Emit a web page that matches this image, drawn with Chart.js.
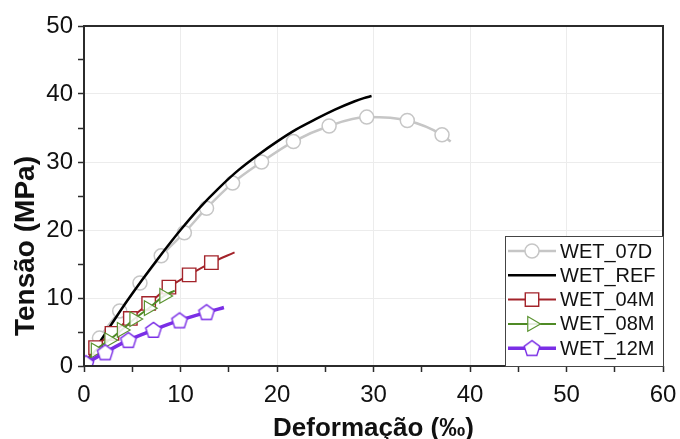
<!DOCTYPE html>
<html>
<head>
<meta charset="utf-8">
<script src="https://cdn.jsdelivr.net/npm/chart.js@4.4.1/dist/chart.umd.min.js"></script>
<style>
  html, body { margin: 0; padding: 0; background: #fff; }
  #wrap { width: 680px; height: 439px; position: relative; }
</style>
</head>
<body>
<div id="wrap"><canvas id="stressChart"></canvas></div>
<script>
// Deformação (‰) x Tensão (MPa) for each WET series
const strain07d = [0, 1.6, 3.7, 5.8, 8.0, 10.4, 12.7, 15.4, 18.4, 21.7, 25.4, 29.3, 33.5, 37.1, 38.0];
const stress07d = [0, 4.1, 8.1, 12.2, 16.2, 19.6, 23.2, 26.9, 30.0, 33.0, 35.3, 36.6, 36.1, 34.0, 33.0];

const strainRef = [0, 2, 4, 6, 8, 10, 12, 14, 16, 18, 20, 22, 24, 26, 28, 29, 29.8];
const stressRef = [0, 4.3, 8.6, 12.6, 16.4, 20.0, 23.3, 26.2, 28.8, 31.0, 33.0, 34.8, 36.3, 37.7, 38.9, 39.4, 39.7];

const strain04m = [0, 1.2, 2.9, 4.8, 6.7, 8.8, 10.9, 13.2, 15.6];
const stress04m = [0, 2.7, 4.8, 7.0, 9.2, 11.6, 13.4, 15.2, 16.7];

const strain08m = [0, 1.2, 2.6, 3.9, 5.2, 6.7, 8.3, 9.4];
const stress08m = [0, 2.3, 3.8, 5.3, 6.9, 8.5, 10.3, 11.1];

const strain12m = [0.2, 2.2, 4.6, 7.2, 9.9, 12.7, 14.5];
const stress12m = [0.4, 2.0, 3.8, 5.3, 6.7, 7.9, 8.6];

const seriesLabels = ['WET_07D', 'WET_REF', 'WET_04M', 'WET_08M', 'WET_12M'];
const xTicks = [0, 10, 20, 30, 40, 50, 60];
const yTicks = [0, 10, 20, 30, 40, 50];
const xTitle = 'Deformação (‰)';
const yTitle = 'Tensão (MPa)';

const FONT = "'Liberation Sans', Arial, sans-serif";

function toPoints(xs, ys) {
    return xs.map((x, i) => ({ x: x, y: ys[i] }));
}

// marker on every point except the ones listed
function markerRadius(n, r, skip) {
    return Array.from({ length: n }, (_, i) => skip.includes(i) ? 0 : r);
}

// pentagon marker, Chart.js has none built in
function makePentagon(color) {
    const c = document.createElement('canvas');
    c.width = 20; c.height = 20;
    const g = c.getContext('2d');
    g.beginPath();
    for (let k = 0; k < 5; k++) {
        const a = -Math.PI / 2 + k * 2 * Math.PI / 5;
        const px = 10 + 8.2 * Math.cos(a), py = 10.6 + 8.2 * Math.sin(a);
        k ? g.lineTo(px, py) : g.moveTo(px, py);
    }
    g.closePath();
    g.fillStyle = '#fff';
    g.fill();
    g.lineWidth = 1.4;
    g.strokeStyle = color;
    g.stroke();
    return c;
}

const purple = '#7a2ee6';
const pentagon = makePentagon(purple);

const datasets = [
    {
        label: seriesLabels[0],
        data: toPoints(strain07d, stress07d),
        borderColor: '#c6c6c6', borderWidth: 2.5,
        pointStyle: 'circle', pointRadius: markerRadius(strain07d.length, 7, [0, 14]),
        pointBackgroundColor: '#fff', pointBorderColor: '#c6c6c6', pointBorderWidth: 1.5,
        order: 5
    },
    {
        label: seriesLabels[1],
        data: toPoints(strainRef, stressRef),
        borderColor: '#000', borderWidth: 2.5,
        pointRadius: 0,
        order: 4
    },
    {
        label: seriesLabels[2],
        data: toPoints(strain04m, stress04m),
        borderColor: '#a3232a', borderWidth: 2,
        pointStyle: 'rect', pointRadius: markerRadius(strain04m.length, 9.5, [0, 8]),
        pointBackgroundColor: '#fff', pointBorderColor: '#a3232a', pointBorderWidth: 1.4,
        order: 3
    },
    {
        label: seriesLabels[3],
        data: toPoints(strain08m, stress08m),
        borderColor: '#4f8a25', borderWidth: 2,
        pointStyle: 'triangle', pointRotation: 90,
        pointRadius: markerRadius(strain08m.length, 8.5, [0, 7]),
        pointBackgroundColor: 'rgba(255,255,255,0.85)', pointBorderColor: '#5c9432', pointBorderWidth: 1.2,
        order: 2
    },
    {
        label: seriesLabels[4],
        data: toPoints(strain12m, stress12m),
        borderColor: purple, borderWidth: 3.5,
        pointStyle: pentagon, pointRadius: markerRadius(strain12m.length, 8, [6]),
        order: 1
    }
];

// box around the plot area
const frame = {
    id: 'frame',
    afterDatasetsDraw(chart) {
        const { ctx, chartArea: a } = chart;
        ctx.save();
        ctx.strokeStyle = '#2b2b2b';
        ctx.lineWidth = 2;
        ctx.strokeRect(a.left, a.top, a.right - a.left, a.bottom - a.top);
        ctx.restore();
    }
};

// axis titles, placed by hand (the y title sits low on its axis)
const axisTitles = {
    id: 'axisTitles',
    afterDraw(chart) {
        const { ctx, chartArea: a } = chart;
        ctx.save();
        ctx.fillStyle = '#111';
        ctx.textAlign = 'center';
        ctx.textBaseline = 'middle';
        ctx.font = 'bold 26px ' + FONT;
        ctx.fillText(xTitle, (a.left + a.right) / 2, 429);
        ctx.translate(26, 246);
        ctx.rotate(-Math.PI / 2);
        ctx.font = 'bold 28px ' + FONT;
        ctx.fillText(yTitle, 0, 0);
        ctx.restore();
    }
};

// legend sitting in the lower right corner of the plot
const cornerLegend = {
    id: 'cornerLegend',
    afterDraw(chart) {
        const { ctx, chartArea: a } = chart;
        const left = 505, top = 236, right = a.right, bottom = a.bottom;
        ctx.save();
        ctx.fillStyle = '#fff';
        ctx.fillRect(left, top, right - left, bottom - top);
        ctx.strokeStyle = '#444';
        ctx.lineWidth = 1;
        ctx.strokeRect(left + 0.5, top + 0.5, right - left, bottom - top);

        chart.data.datasets.forEach((ds, i) => {
            const y = top + 15 + i * 24.3;
            ctx.strokeStyle = ds.borderColor;
            ctx.lineWidth = ds.borderWidth;
            ctx.beginPath();
            ctx.moveTo(left + 3, y);
            ctx.lineTo(left + 51, y);
            ctx.stroke();
            const r = Array.isArray(ds.pointRadius) ? Math.max(...ds.pointRadius) : ds.pointRadius;
            if (r > 0) {
                ctx.fillStyle = ds.pointBackgroundColor || '#fff';
                ctx.strokeStyle = ds.pointBorderColor || ds.borderColor;
                ctx.lineWidth = ds.pointBorderWidth || 1;
                Chart.helpers.drawPoint(ctx, {
                    pointStyle: ds.pointStyle, radius: r, rotation: ds.pointRotation || 0, borderWidth: ctx.lineWidth
                }, left + 27, y);
            }
            ctx.fillStyle = '#111';
            ctx.font = '20px ' + FONT;
            ctx.textBaseline = 'middle';
            ctx.fillText(ds.label, left + 55, y + 1);
        });
        ctx.restore();
    }
};

const tickStyle = {
    color: '#111',
    font: { family: FONT, size: 24 }
};

new Chart(document.getElementById('stressChart'), {
    type: 'line',
    data: { datasets: datasets },
    plugins: [frame, axisTitles, cornerLegend],
    options: {
        responsive: true,
        maintainAspectRatio: false,
        animation: false,
        cubicInterpolationMode: 'monotone',
        layout: { padding: { top: 26, right: 17, left: 0, bottom: 0 } },
        plugins: { legend: { display: false }, tooltip: { enabled: false } },
        scales: {
            x: {
                type: 'linear',
                min: 0, max: 60,
                ticks: {
                    ...tickStyle,
                    stepSize: 5,
                    padding: 9,
                    maxRotation: 0,
                    autoSkip: false,
                    callback: v => xTicks.includes(v) ? String(v) : ''
                },
                grid: {
                    color: c => xTicks.includes(c.tick.value) && c.tick.value > 0 ? '#ececec' : 'rgba(0,0,0,0)',
                    tickColor: '#2b2b2b',
                    tickLength: 6,
                    lineWidth: 1,
                    tickWidth: 1.5
                },
                border: { display: false },
                afterFit: s => { s.height = 73; s.paddingLeft = 0; s.paddingRight = 0; }
            },
            y: {
                min: 0, max: 50,
                ticks: {
                    ...tickStyle,
                    stepSize: 5,
                    padding: 5,
                    autoSkip: false,
                    callback: v => yTicks.includes(v) ? String(v) : ''
                },
                grid: {
                    color: c => yTicks.includes(c.tick.value) && c.tick.value > 0 ? '#ececec' : 'rgba(0,0,0,0)',
                    tickColor: '#2b2b2b',
                    tickLength: 6,
                    lineWidth: 1,
                    tickWidth: 1.5
                },
                border: { display: false },
                afterFit: s => { s.width = 84; s.paddingTop = 0; s.paddingBottom = 0; }
            }
        }
    }
});
</script>
</body>
</html>
